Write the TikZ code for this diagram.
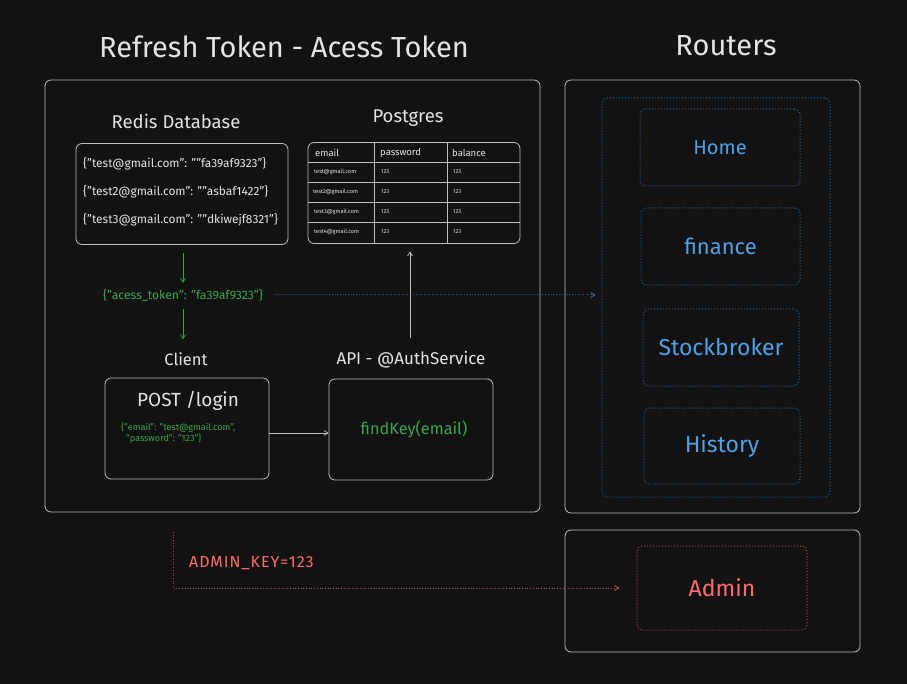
\documentclass[tikz,border=0pt]{standalone}
\usepackage{fontspec}
\setmainfont{Fira Sans}
\usetikzlibrary{arrows.meta}
\definecolor{bg}{HTML}{121212}
\definecolor{fg}{HTML}{E3E3E3}
\definecolor{edge}{HTML}{BDBDBD}
\definecolor{grn}{HTML}{3BA54C}
\definecolor{blu}{HTML}{4EA1E6}
\definecolor{bludot}{HTML}{2F5F8C}
\definecolor{redt}{HTML}{FF6B6B}
\definecolor{reddot}{HTML}{A34A4A}
\newcommand{\fsz}[1]{\fontsize{#1}{#1}\selectfont}
\tikzset{
  box/.style={draw=edge, line width=0.8pt, rounded corners=6pt, inner sep=0pt},
  bbox/.style={draw=bludot, line width=1pt, dotted, rounded corners=6pt, inner sep=0pt, text=blu},
  rbox/.style={draw=reddot, line width=1pt, dotted, rounded corners=6pt, inner sep=0pt},
  lbl/.style={text=fg, inner sep=0pt},
  arr/.style={-{Straight Barb[length=4pt,width=5pt]}, line width=0.7pt},
  grid/.style={draw=edge, line width=0.6pt},
}
\begin{document}
\begin{tikzpicture}[x=1pt,y=-1pt]
\fill[bg] (0,0) rectangle (907,684);
\useasboundingbox (0,0) rectangle (907,684);

% titles
\node[lbl, font=\fsz{29}] (title) at (284,47) {Refresh Token - Acess Token};
\node[lbl, font=\fsz{29}] (routers) at (726,46) {Routers};

% big frames
\node[box, minimum width=495, minimum height=432] (left) at (292.5,296) {};
\node[box, minimum width=295, minimum height=433] (right) at (712.5,296.5) {};
\node[box, minimum width=295, minimum height=122] (adminframe) at (712.5,591) {};

% routers
\node[bbox, minimum width=228, minimum height=399] (bouter) at (716,297.5) {};
\node[bbox, minimum width=160, minimum height=77, font=\fsz{20}] (home) at (720,147.5) {Home};
\node[bbox, minimum width=159, minimum height=77, font=\fsz{22}] (finance) at (720.5,246.5) {finance};
\node[bbox, minimum width=156, minimum height=77, font=\fsz{23}] (stock) at (721,347.5) {Stockbroker};
\node[bbox, minimum width=156, minimum height=76, font=\fsz{23}] (history) at (722,446) {History};
\node[rbox, minimum width=170, minimum height=84, text=redt, font=\fsz{23}] (admin) at (722,588) {Admin};

% redis
\node[lbl, font=\fsz{18.5}] (redislbl) at (176,121) {Redis Database};
\node[box, minimum width=212, minimum height=101] (redis) at (182,194) {};
\begin{scope}[font=\fsz{11.9}]
\node[lbl, anchor=west] (r1) at (83,164) {\{"test@gmail.com": ""fa39af9323"\}};
\node[lbl, anchor=west] (r2) at (83,192) {\{"test2@gmail.com": ""asbaf1422"\}};
\node[lbl, anchor=west] (r3) at (83,220) {\{"test3@gmail.com": ""dkiwejf8321"\}};
\end{scope}

% postgres
\node[lbl, font=\fsz{18.5}] (pglbl) at (408,118) {Postgres};
\node[box, minimum width=212, minimum height=101] (table) at (414,193) {};
\draw[grid] (374,143) -- (374,243.5) (447,143) -- (447,243.5);
\draw[grid] (308,162) -- (520,162) (308,182) -- (520,182) (308,202) -- (520,202) (308,222.5) -- (520,222.5);
\begin{scope}[font=\fsz{9.5}]
\node[lbl, anchor=west] (h1) at (315,152.5) {email};
\node[lbl, anchor=west] (h2) at (380,153) {password};
\node[lbl, anchor=west] (h3) at (452,153) {balance};
\end{scope}
\begin{scope}[font=\fsz{5.7}]
\node[lbl, anchor=west] (e1) at (314,172) {test@gmail.com};
\node[lbl, anchor=west] (e2) at (313,192) {test2@gmail.com};
\node[lbl, anchor=west] (e3) at (314,212) {test3@gmail.com};
\node[lbl, anchor=west] (e4) at (314,232) {test4@gmail.com};
\foreach \yy/\nn in {172/a,192/b,212/c,232/d}{
  \node[lbl, anchor=west] (p\nn) at (381,\yy) {123};
  \node[lbl, anchor=west] (q\nn) at (453,\yy) {123};
}
\end{scope}

% token
\node[text=grn, inner sep=0pt, font=\fsz{12.2}] (tok) at (183,295) {\{"acess\_token": "fa39af9323"\}};

% client
\node[lbl, font=\fsz{16.5}] (clientlbl) at (186,359) {Client};
\node[box, minimum width=164, minimum height=101] (client) at (187,428.5) {};
\node[lbl, font=\fsz{19}] (post) at (188,401) {POST /login};
\node[text=grn, inner sep=0pt, anchor=west, align=left, font=\fontsize{9.1}{11.5}\selectfont] (body) at (121,433) {\{"email": "test@gmail.com",\\\hspace*{5pt}"password": "123"\}};

% api
\node[lbl, font=\fsz{17}] (apilbl) at (411,360) {API - @AuthService};
\node[box, minimum width=164, minimum height=101] (api) at (411,429.5) {};
\node[text=grn, inner sep=0pt, font=\fsz{16.3}] (fk) at (414,429) {findKey(email)};

% red key
\node[text=redt, inner sep=0pt, anchor=west, font=\fsz{16}\addfontfeature{LetterSpace=6}] (key) at (189,563) {ADMIN\_KEY=123};
\coordinate (rstart) at (173,532);

% connectors
\draw[arr, grn, shorten <=8.5pt, shorten >=6pt] (redis.south -| tok.north) -- (tok.north);
\draw[arr, grn, shorten <=8pt, shorten >=13pt] (tok.south) -- (tok.south |- clientlbl.north);
\draw[arr, bludot, dotted, line width=1pt, shorten <=12pt, shorten >=6pt] (tok.east) -- (tok.east -| bouter.west);
\draw[arr, edge] (client.east |- 0,433) -- (api.west |- 0,433);
\draw[arr, edge, shorten <=13pt, shorten >=7.5pt] (apilbl.north -| 410,0) -- (table.south -| 410,0);
\draw[arr, reddot, dotted, line width=1pt, shorten >=17pt] (rstart) |- (admin.west);
\end{tikzpicture}
\end{document}
